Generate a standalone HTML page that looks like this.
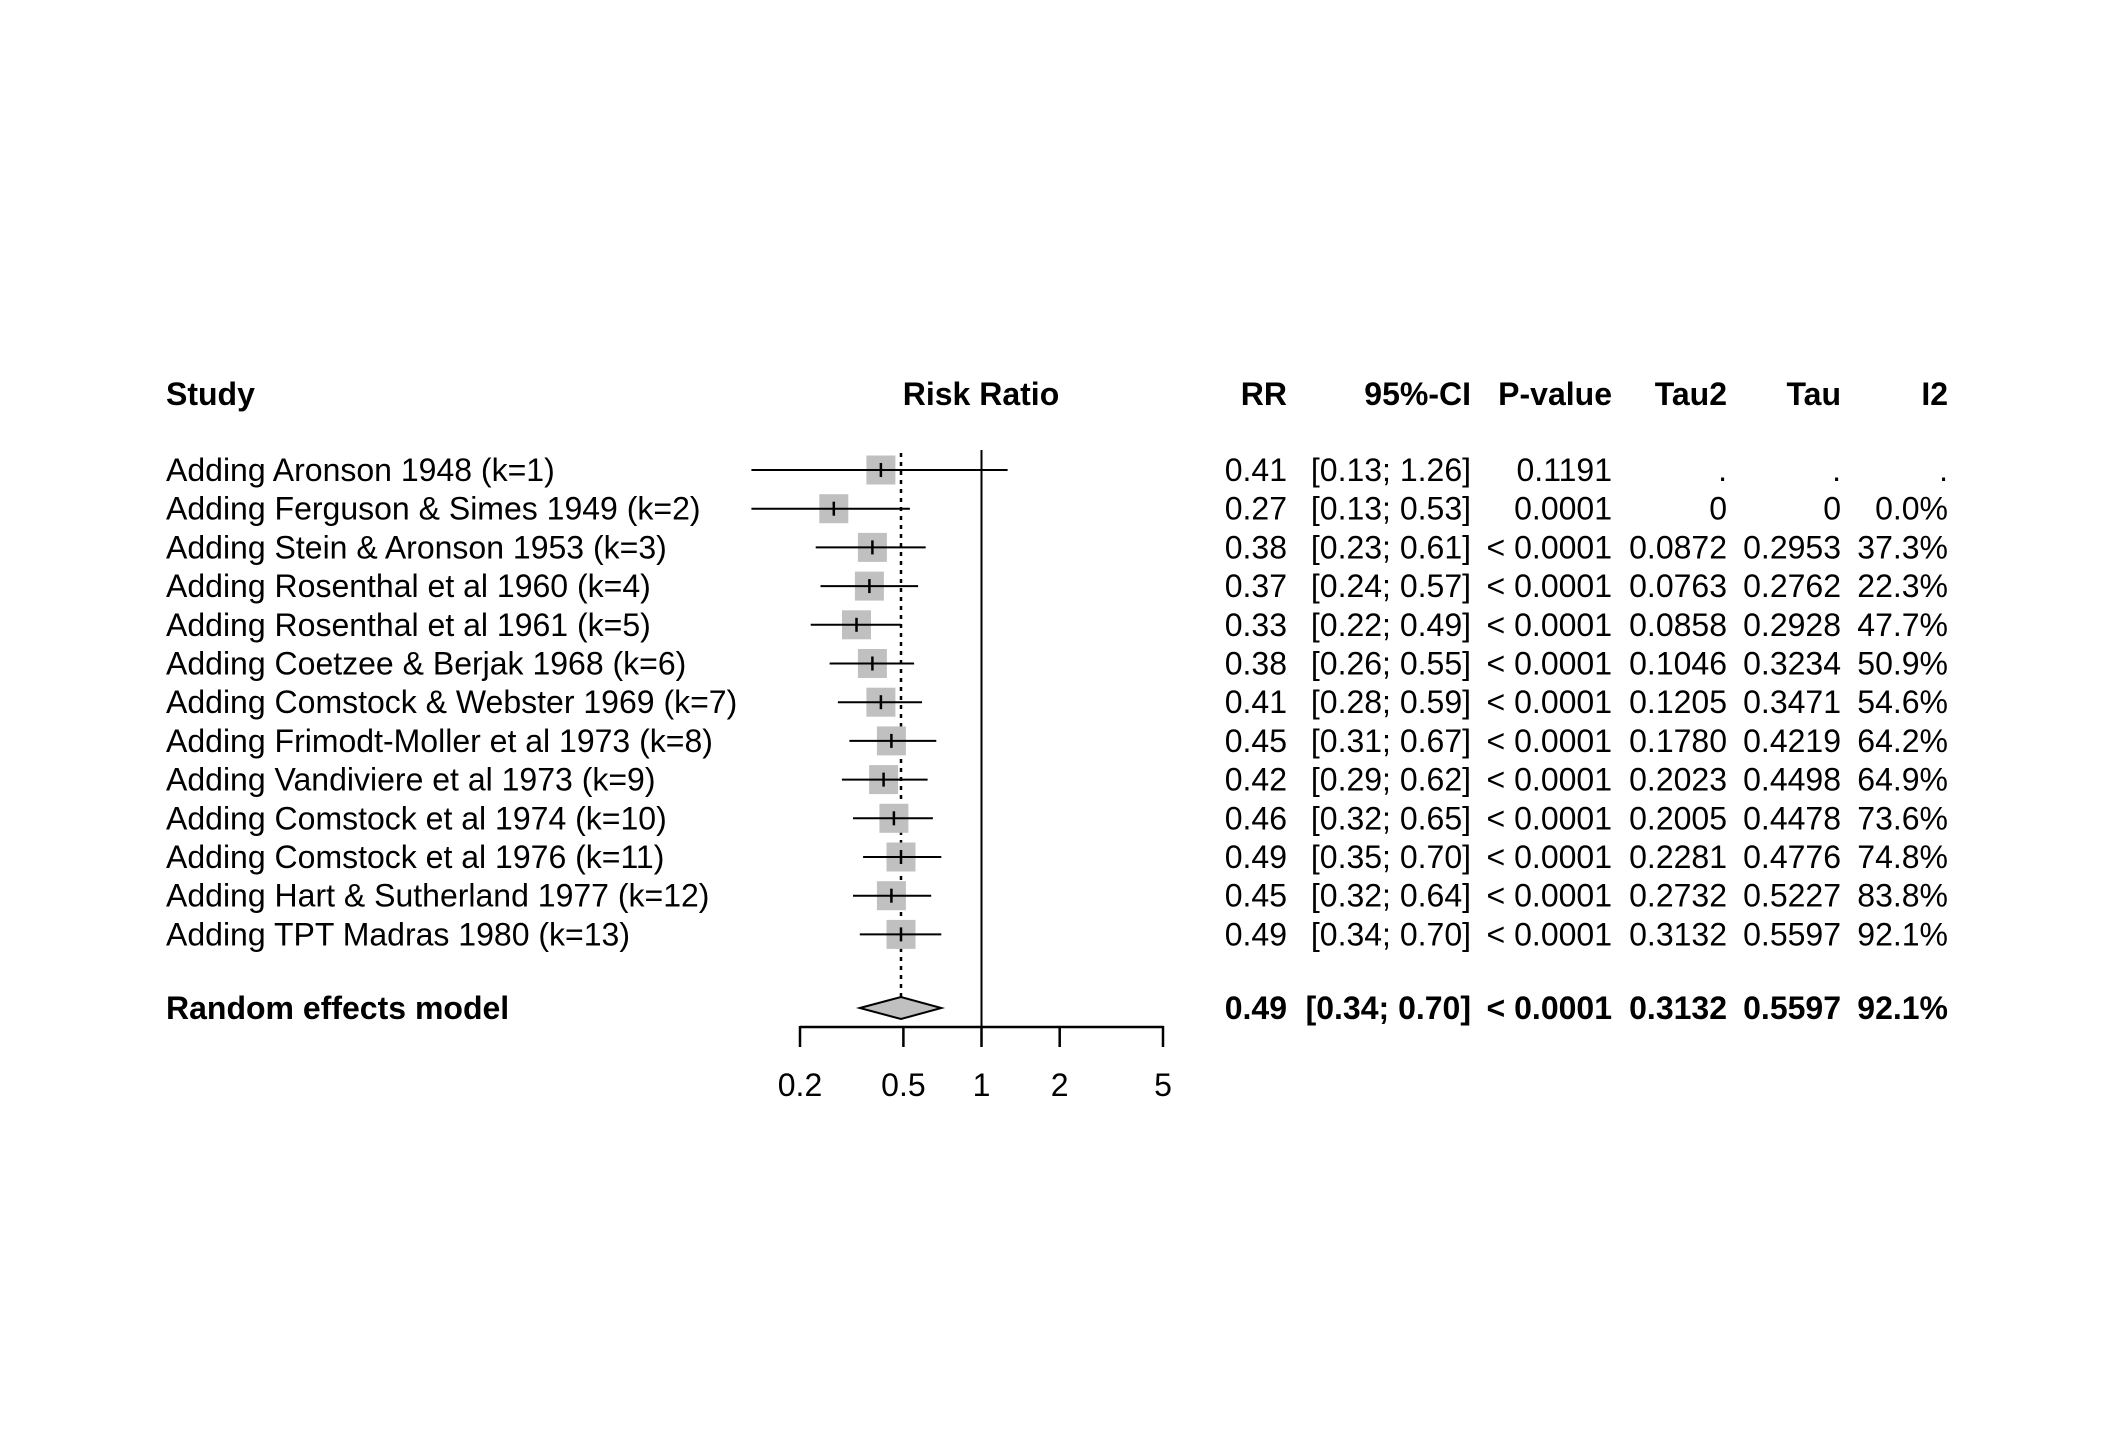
<!DOCTYPE html>
<html><head><meta charset="utf-8"><style>
html,body{margin:0;padding:0;background:#fff;}
svg{display:block;}
text{font-family:"Liberation Sans",Arial,sans-serif;font-size:32px;fill:#000;}
.b{font-weight:bold;}
</style></head><body>
<svg width="2112" height="1440" viewBox="0 0 2112 1440" xmlns="http://www.w3.org/2000/svg">
<rect width="2112" height="1440" fill="#fff"/>
<g dominant-baseline="central">
<text x="166" y="394" class="b">Study</text>
<text x="981" y="394" class="b" text-anchor="middle">Risk Ratio</text>
<text x="1287" y="394" class="b" text-anchor="end">RR</text>
<text x="1471" y="394" class="b" text-anchor="end">95%-CI</text>
<text x="1612" y="394" class="b" text-anchor="end">P-value</text>
<text x="1727" y="394" class="b" text-anchor="end">Tau2</text>
<text x="1841" y="394" class="b" text-anchor="end">Tau</text>
<text x="1948" y="394" class="b" text-anchor="end">I2</text>
</g>
<line x1="981.5" y1="450" x2="981.5" y2="1027" stroke="#000" stroke-width="2"/>
<line x1="901" y1="453" x2="901" y2="997" stroke="#000" stroke-width="2.5" stroke-dasharray="4,5"/>

<g fill="#c0c0c0">
<rect x="866.4" y="455.5" width="29" height="29"/>
<rect x="819.3" y="494.2" width="29" height="29"/>
<rect x="857.9" y="532.9" width="29" height="29"/>
<rect x="854.9" y="571.6" width="29" height="29"/>
<rect x="842" y="610.3" width="29" height="29"/>
<rect x="857.9" y="649" width="29" height="29"/>
<rect x="866.4" y="687.7" width="29" height="29"/>
<rect x="876.9" y="726.4" width="29" height="29"/>
<rect x="869.1" y="765.1" width="29" height="29"/>
<rect x="879.4" y="803.8" width="29" height="29"/>
<rect x="886.5" y="842.5" width="29" height="29"/>
<rect x="876.9" y="881.2" width="29" height="29"/>
<rect x="886.5" y="919.9" width="29" height="29"/>
</g>
<g stroke="#000" stroke-width="2">
<line x1="751.4" y1="470" x2="1007.6" y2="470"/>
<line x1="751.4" y1="508.7" x2="909.9" y2="508.7"/>
<line x1="815.7" y1="547.4" x2="925.7" y2="547.4"/>
<line x1="820.5" y1="586.1" x2="918.1" y2="586.1"/>
<line x1="810.7" y1="624.8" x2="901" y2="624.8"/>
<line x1="829.6" y1="663.5" x2="914.1" y2="663.5"/>
<line x1="837.9" y1="702.2" x2="922" y2="702.2"/>
<line x1="849.4" y1="740.9" x2="936.3" y2="740.9"/>
<line x1="841.9" y1="779.6" x2="927.6" y2="779.6"/>
<line x1="853" y1="818.3" x2="932.9" y2="818.3"/>
<line x1="863.1" y1="857" x2="941.3" y2="857"/>
<line x1="853" y1="895.7" x2="931.2" y2="895.7"/>
<line x1="859.8" y1="934.4" x2="941.3" y2="934.4"/>
</g>
<g stroke="#000" stroke-width="2.5">
<line x1="880.9" y1="463" x2="880.9" y2="477"/>
<line x1="833.8" y1="501.7" x2="833.8" y2="515.7"/>
<line x1="872.4" y1="540.4" x2="872.4" y2="554.4"/>
<line x1="869.4" y1="579.1" x2="869.4" y2="593.1"/>
<line x1="856.5" y1="617.8" x2="856.5" y2="631.8"/>
<line x1="872.4" y1="656.5" x2="872.4" y2="670.5"/>
<line x1="880.9" y1="695.2" x2="880.9" y2="709.2"/>
<line x1="891.4" y1="733.9" x2="891.4" y2="747.9"/>
<line x1="883.6" y1="772.6" x2="883.6" y2="786.6"/>
<line x1="893.9" y1="811.3" x2="893.9" y2="825.3"/>
<line x1="901" y1="850" x2="901" y2="864"/>
<line x1="891.4" y1="888.7" x2="891.4" y2="902.7"/>
<line x1="901" y1="927.4" x2="901" y2="941.4"/>
</g>

<g dominant-baseline="central">
<text x="166" y="470">Adding Aronson 1948 (k=1)</text>
<text x="166" y="508.7">Adding Ferguson &amp; Simes 1949 (k=2)</text>
<text x="166" y="547.4">Adding Stein &amp; Aronson 1953 (k=3)</text>
<text x="166" y="586.1">Adding Rosenthal et al 1960 (k=4)</text>
<text x="166" y="624.8">Adding Rosenthal et al 1961 (k=5)</text>
<text x="166" y="663.5">Adding Coetzee &amp; Berjak 1968 (k=6)</text>
<text x="166" y="702.2">Adding Comstock &amp; Webster 1969 (k=7)</text>
<text x="166" y="740.9">Adding Frimodt-Moller et al 1973 (k=8)</text>
<text x="166" y="779.6">Adding Vandiviere et al 1973 (k=9)</text>
<text x="166" y="818.3">Adding Comstock et al 1974 (k=10)</text>
<text x="166" y="857">Adding Comstock et al 1976 (k=11)</text>
<text x="166" y="895.7">Adding Hart &amp; Sutherland 1977 (k=12)</text>
<text x="166" y="934.4">Adding TPT Madras 1980 (k=13)</text>
</g>
<g dominant-baseline="central" text-anchor="end">
<text x="1287" y="470">0.41</text><text x="1471" y="470">[0.13; 1.26]</text><text x="1612" y="470">0.1191</text><text x="1727" y="470">.</text><text x="1841" y="470">.</text><text x="1948" y="470">.</text>
<text x="1287" y="508.7">0.27</text><text x="1471" y="508.7">[0.13; 0.53]</text><text x="1612" y="508.7">0.0001</text><text x="1727" y="508.7">0</text><text x="1841" y="508.7">0</text><text x="1948" y="508.7">0.0%</text>
<text x="1287" y="547.4">0.38</text><text x="1471" y="547.4">[0.23; 0.61]</text><text x="1612" y="547.4">&lt; 0.0001</text><text x="1727" y="547.4">0.0872</text><text x="1841" y="547.4">0.2953</text><text x="1948" y="547.4">37.3%</text>
<text x="1287" y="586.1">0.37</text><text x="1471" y="586.1">[0.24; 0.57]</text><text x="1612" y="586.1">&lt; 0.0001</text><text x="1727" y="586.1">0.0763</text><text x="1841" y="586.1">0.2762</text><text x="1948" y="586.1">22.3%</text>
<text x="1287" y="624.8">0.33</text><text x="1471" y="624.8">[0.22; 0.49]</text><text x="1612" y="624.8">&lt; 0.0001</text><text x="1727" y="624.8">0.0858</text><text x="1841" y="624.8">0.2928</text><text x="1948" y="624.8">47.7%</text>
<text x="1287" y="663.5">0.38</text><text x="1471" y="663.5">[0.26; 0.55]</text><text x="1612" y="663.5">&lt; 0.0001</text><text x="1727" y="663.5">0.1046</text><text x="1841" y="663.5">0.3234</text><text x="1948" y="663.5">50.9%</text>
<text x="1287" y="702.2">0.41</text><text x="1471" y="702.2">[0.28; 0.59]</text><text x="1612" y="702.2">&lt; 0.0001</text><text x="1727" y="702.2">0.1205</text><text x="1841" y="702.2">0.3471</text><text x="1948" y="702.2">54.6%</text>
<text x="1287" y="740.9">0.45</text><text x="1471" y="740.9">[0.31; 0.67]</text><text x="1612" y="740.9">&lt; 0.0001</text><text x="1727" y="740.9">0.1780</text><text x="1841" y="740.9">0.4219</text><text x="1948" y="740.9">64.2%</text>
<text x="1287" y="779.6">0.42</text><text x="1471" y="779.6">[0.29; 0.62]</text><text x="1612" y="779.6">&lt; 0.0001</text><text x="1727" y="779.6">0.2023</text><text x="1841" y="779.6">0.4498</text><text x="1948" y="779.6">64.9%</text>
<text x="1287" y="818.3">0.46</text><text x="1471" y="818.3">[0.32; 0.65]</text><text x="1612" y="818.3">&lt; 0.0001</text><text x="1727" y="818.3">0.2005</text><text x="1841" y="818.3">0.4478</text><text x="1948" y="818.3">73.6%</text>
<text x="1287" y="857">0.49</text><text x="1471" y="857">[0.35; 0.70]</text><text x="1612" y="857">&lt; 0.0001</text><text x="1727" y="857">0.2281</text><text x="1841" y="857">0.4776</text><text x="1948" y="857">74.8%</text>
<text x="1287" y="895.7">0.45</text><text x="1471" y="895.7">[0.32; 0.64]</text><text x="1612" y="895.7">&lt; 0.0001</text><text x="1727" y="895.7">0.2732</text><text x="1841" y="895.7">0.5227</text><text x="1948" y="895.7">83.8%</text>
<text x="1287" y="934.4">0.49</text><text x="1471" y="934.4">[0.34; 0.70]</text><text x="1612" y="934.4">&lt; 0.0001</text><text x="1727" y="934.4">0.3132</text><text x="1841" y="934.4">0.5597</text><text x="1948" y="934.4">92.1%</text>
</g>

<polygon points="859.8,1008 901,997 941.3,1008 901,1019" fill="#c0c0c0" stroke="#000" stroke-width="2"/>
<g dominant-baseline="central">
<text x="166" y="1008" class="b">Random effects model</text>
<text x="1287" y="1008" class="b" text-anchor="end">0.49</text>
<text x="1471" y="1008" class="b" text-anchor="end">[0.34; 0.70]</text>
<text x="1612" y="1008" class="b" text-anchor="end">&lt; 0.0001</text>
<text x="1727" y="1008" class="b" text-anchor="end">0.3132</text>
<text x="1841" y="1008" class="b" text-anchor="end">0.5597</text>
<text x="1948" y="1008" class="b" text-anchor="end">92.1%</text>
</g>
<g stroke="#000" stroke-width="2.5" fill="none">
<line x1="800" y1="1027" x2="1163.5" y2="1027"/>
<line x1="800" y1="1026" x2="800" y2="1047"/>
<line x1="903.4" y1="1027" x2="903.4" y2="1047"/>
<line x1="981.5" y1="1027" x2="981.5" y2="1047"/>
<line x1="1059.7" y1="1027" x2="1059.7" y2="1047"/>
<line x1="1163" y1="1026" x2="1163" y2="1047"/>
</g>
<g dominant-baseline="central" text-anchor="middle">
<text x="800" y="1085">0.2</text>
<text x="903.4" y="1085">0.5</text>
<text x="981.5" y="1085">1</text>
<text x="1059.7" y="1085">2</text>
<text x="1163" y="1085">5</text>
</g>
</svg>
</body></html>
